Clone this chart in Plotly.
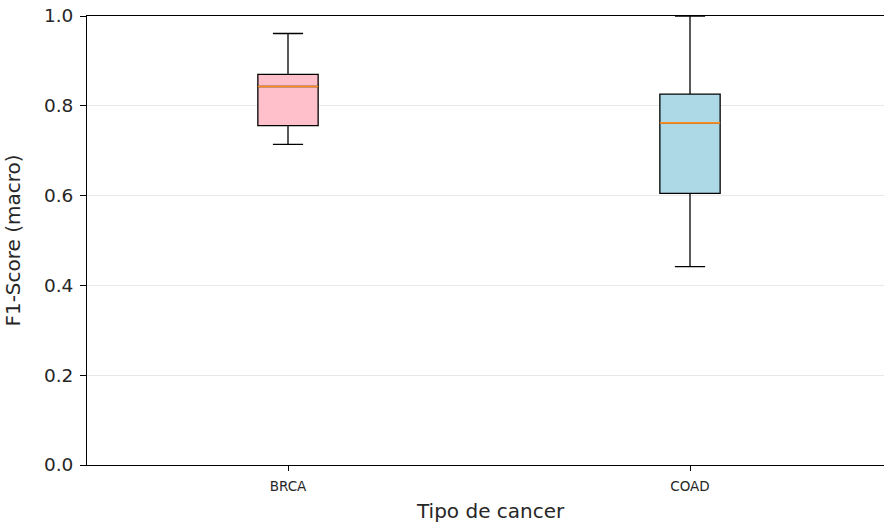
import plotly.graph_objects as go

categories = ["BRCA", "COAD"]
positions = [1, 2]
lower_whisker = [0.714, 0.442]
q1_values = [0.756, 0.605]
medians = [0.843, 0.762]
q3_values = [0.870, 0.826]
upper_whisker = [0.961, 1.0]
fill_colors = ["#ffc0cb", "#add8e6"]
y_ticks = [0.0, 0.2, 0.4, 0.6, 0.8, 1.0]

box_width = 0.15
font = "DejaVu Sans"
text_color = "#262626"

fig = go.Figure()
for i, cat in enumerate(categories):
    fig.add_trace(go.Box(
        x=[positions[i]], q1=[q1_values[i]], median=[medians[i]], q3=[q3_values[i]],
        lowerfence=[lower_whisker[i]], upperfence=[upper_whisker[i]],
        width=box_width, whiskerwidth=0.5, fillcolor=fill_colors[i],
        line=dict(color="black", width=1.3), boxpoints=False,
        name=cat, showlegend=False, hoverinfo="skip",
    ))
    fig.add_trace(go.Scatter(
        x=[positions[i] - box_width / 2, positions[i] + box_width / 2],
        y=[medians[i], medians[i]], mode="lines",
        line=dict(color="#ff8c1a", width=1.6), showlegend=False, hoverinfo="skip",
    ))

fig.add_annotation(
    text="Tipo de cancer", xref="paper", yref="paper",
    x=(490 - 87) / 797, y=-(511 - 465) / 449, xanchor="center", yanchor="middle",
    showarrow=False, font=dict(size=20, family=font, color=text_color),
)

fig.update_layout(
    width=884, height=524,
    margin=dict(l=87, r=0, t=16, b=59),
    paper_bgcolor="white", plot_bgcolor="white",
    boxmode="overlay",
    font=dict(family=font, color=text_color),
    xaxis=dict(
        range=[0.5, 0.5 + 797 / 402], tickvals=positions, ticktext=categories,
        showgrid=False, zeroline=False, showline=True, linecolor="black", linewidth=1,
        mirror=True, ticks="outside", ticklen=5, tickcolor="black",
        ticklabelstandoff=4,
        tickfont=dict(size=13.5, family=font, color=text_color),
    ),
    yaxis=dict(
        range=[0, 1], tickvals=y_ticks, ticktext=[f"{v:.1f}" for v in y_ticks],
        showgrid=True, gridcolor="#e8e8e8", gridwidth=1, zeroline=False,
        showline=True, linecolor="black", linewidth=1,
        ticks="outside", ticklen=6, tickcolor="black",
        ticklabelstandoff=3, ticklabeloverflow="allow",
        tickfont=dict(size=18.5, family=font, color=text_color),
        title=dict(text="F1-Score (macro)", font=dict(size=20, family=font, color=text_color), standoff=17),
    ),
)

fig.write_html(
    "out.html",
    config={"displayModeBar": False},
    post_script="document.body.style.margin='0';document.body.style.overflow='hidden';",
)
